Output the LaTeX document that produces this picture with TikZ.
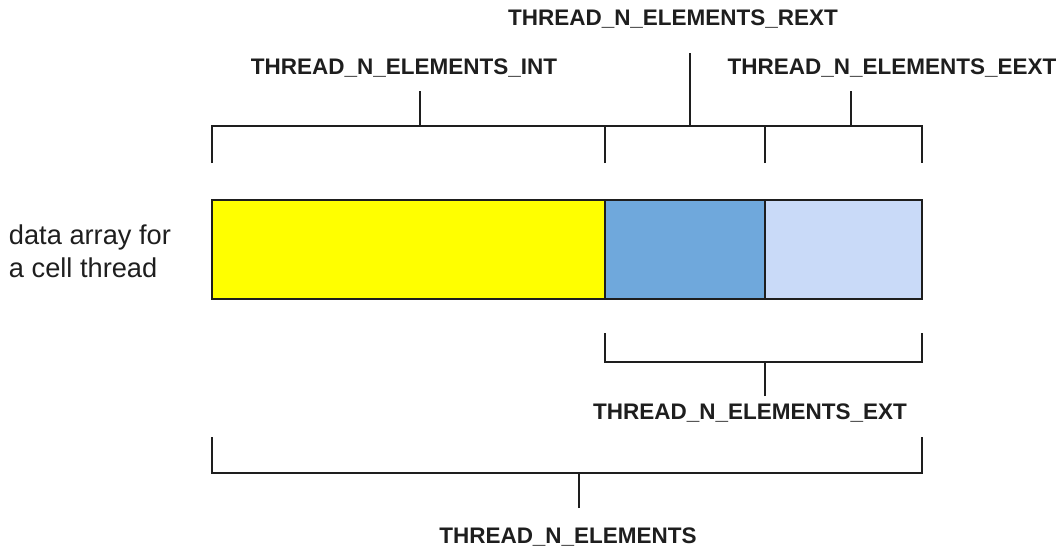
\documentclass[tikz,border=0pt]{standalone}
\usepackage{fontspec}
\setmainfont{Liberation Sans}
\usepackage{tikz}
\usetikzlibrary{positioning, calc}
\definecolor{CellYellow}{RGB}{255,255,0}
\definecolor{CellBlue}{RGB}{111,168,220}
\definecolor{CellPale}{RGB}{201,218,248}
\definecolor{LineGray}{RGB}{30,30,30}

\begin{document}
\begin{tikzpicture}[x=0.02cm, y=-0.02cm, line width=1.1pt, draw=LineGray,
	cell/.style={draw=LineGray, line width=1.4pt, inner sep=0pt, minimum height=1.98cm},
	lbl/.style={font=\fontsize{12.8}{15}\selectfont\bfseries, text=LineGray, inner sep=0pt}]
	\useasboundingbox (0,0) rectangle (1058,552);
	% the data array
	\foreach \n/\l/\r/\c in {int/212/605/CellYellow, rext/605/765/CellBlue, eext/765/922/CellPale}{
		\node[cell, fill=\c, minimum width={(\r-\l)*0.02cm}] (\n) at ({(\l+\r)/2},249.5) {};
	}
	\node[anchor=west, align=left, inner sep=0pt, text=LineGray,
		font=\fontsize{15.5}{18.8}\selectfont] (caption) at (8,251) {data array for\\a cell thread};
	% top brackets
	\coordinate (top) at (0,126);
	\foreach \n/\x in {a/212, b/605, c/765, d/922}
		\coordinate (t\n) at (\x,163);
	\draw (ta) -- (ta |- top) -- (td |- top) -- (td);
	\foreach \n in {b,c}
		\draw (t\n) -- (t\n |- top);
	\foreach \n/\x/\y/\lx/\ly/\txt in {
		sint/420/91/404/68/THREAD\_N\_ELEMENTS\_INT,
		srext/690/53/673/19/THREAD\_N\_ELEMENTS\_REXT,
		seext/851/91/892/68/THREAD\_N\_ELEMENTS\_EEXT}{
		\coordinate (\n) at (\x,\y);
		\draw (\n) -- (\n |- top);
		\node[lbl] (l\n) at (\lx,\ly) {\txt};
	}
	% EXT bracket
	\coordinate (eb) at (0,362);
	\coordinate (ea) at (605,333);
	\coordinate (ez) at (922,333);
	\coordinate (ext) at (765,396);
	\draw (ea) -- (ea |- eb) -- (ez |- eb) -- (ez);
	\draw (ext) -- (ext |- eb);
	\node[lbl] (lext) at (750,413) {THREAD\_N\_ELEMENTS\_EXT};
	% total bracket
	\coordinate (bb) at (0,473);
	\coordinate (ba) at (212,437);
	\coordinate (bz) at (922,437);
	\coordinate (all) at (579,508);
	\draw (ba) -- (ba |- bb) -- (bz |- bb) -- (bz);
	\draw (all) -- (all |- bb);
	\node[lbl] (lall) at (568,537) {THREAD\_N\_ELEMENTS};
\end{tikzpicture}
\end{document}
